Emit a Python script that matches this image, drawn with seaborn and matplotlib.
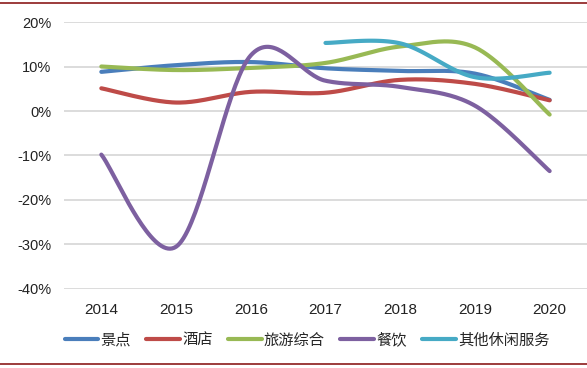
import numpy as np
import pandas as pd
import matplotlib
matplotlib.use("Agg")
import matplotlib.pyplot as plt
from matplotlib.lines import Line2D
import seaborn as sns

# yearly growth rates (%)
years = ["2014", "2015", "2016", "2017", "2018", "2019", "2020"]
jingdian = [8.8, 10.3, 11.0, 9.6, 9.0, 8.4, 2.5]
jiudian = [5.1, 1.9, 4.3, 4.1, 7.0, 6.1, 2.4]
lvyou = [10.0, 9.2, 9.7, 10.8, 14.5, 14.3, -0.8]
canyin = [-9.8, -30.5, 12.5, 6.8, 5.4, 1.2, -13.5]
qita = [np.nan, np.nan, np.nan, 15.3, 15.2, 7.6, 8.6]

names = ["景点", "酒店", "旅游综合", "餐饮", "其他休闲服务"]
series = [jingdian, jiudian, lvyou, canyin, qita]
colors = ["#4A7EBB", "#BE4B48", "#98B954", "#7D60A0", "#46AAC5"]


def smooth(xv, yv, n=40):
    # excel-style smoothed line (bezier through points)
    xv = np.asarray(xv, float)
    yv = np.asarray(yv, float)
    pts = np.column_stack([xv, yv])
    out = []
    for i in range(len(pts) - 1):
        p0 = pts[max(i - 1, 0)]
        p1 = pts[i]
        p2 = pts[i + 1]
        p3 = pts[min(i + 2, len(pts) - 1)]
        c1 = p1 + (p2 - p0) / 6
        c2 = p2 - (p3 - p1) / 6
        t = np.linspace(0, 1, n)[:, None]
        seg = ((1 - t) ** 3) * p1 + 3 * ((1 - t) ** 2) * t * c1 + 3 * (1 - t) * t ** 2 * c2 + t ** 3 * p2
        out.append(seg if i == 0 else seg[1:])
    out = np.vstack(out)
    return out[:, 0], out[:, 1]


rows = []
for name, vals in zip(names, series):
    vals = np.asarray(vals, float)
    ok = ~np.isnan(vals)
    xs, ys = smooth(np.arange(len(years))[ok], vals[ok])
    rows.append(pd.DataFrame({"x": xs, "y": ys, "series": name}))
df = pd.concat(rows, ignore_index=True)

sns.set_theme(style="white")
plt.rcParams["font.family"] = ["Liberation Sans", "Noto Sans CJK SC", "DejaVu Sans"]

fig = plt.figure(figsize=(5.87, 3.68), dpi=100)
ax = fig.add_axes([0.109, 0.2147, 0.891, 0.7255])

sns.lineplot(data=df, x="x", y="y", hue="series", palette=dict(zip(names, colors)),
             sort=False, estimator=None, linewidth=3.0, legend=False, ax=ax,
             solid_capstyle="round")

ax.set_xlim(-0.5, 6.5)
ax.set_ylim(-40, 20)
ax.set_yticks(range(-40, 21, 10))
ax.set_yticklabels([f"{v}%" for v in range(-40, 21, 10)], fontsize=10.5, color="#222222")
ax.set_xticks(range(len(years)))
ax.set_xticklabels(years, fontsize=11, color="#222222")
ax.set_xlabel("")
ax.set_ylabel("")
ax.grid(axis="y", color="#D9D9D9", linewidth=1.3)
ax.set_axisbelow(True)
for s in ax.spines.values():
    s.set_visible(False)
ax.tick_params(axis="both", length=0, pad=9)
ax.tick_params(axis="x", pad=10)

handles = [Line2D([], [], color=c, linewidth=3.0, solid_capstyle="round") for c in colors]
fig.legend(handles, names, loc="center", bbox_to_anchor=(0.523, 0.076), ncol=5,
           frameon=False, handlelength=2.2, handletextpad=0.15,
           columnspacing=1.0, prop={"family": ["Noto Sans CJK SC"], "size": 11})

# dark red rules at top and bottom
fig.add_artist(Line2D([0, 1], [0.992, 0.992], color="#8B1A1A", linewidth=1.2))
fig.add_artist(Line2D([0, 1], [0.011, 0.011], color="#8B1A1A", linewidth=1.2))

fig.savefig("out.png", dpi=100)
